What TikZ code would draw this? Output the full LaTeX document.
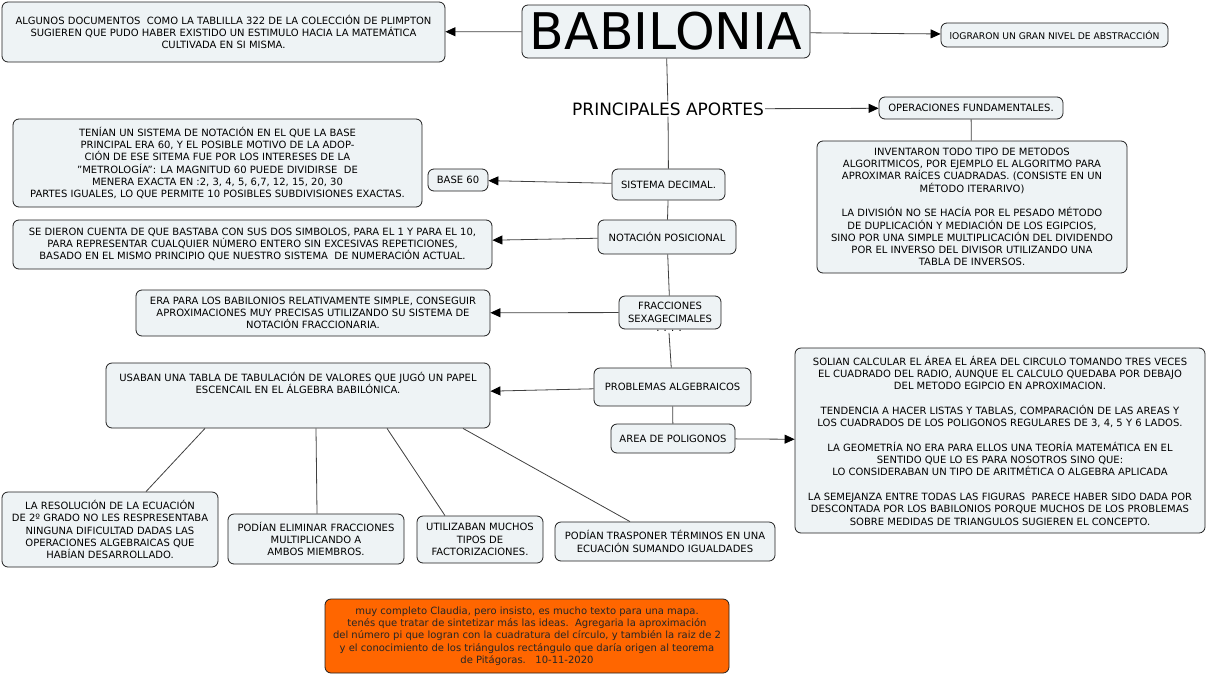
\documentclass[tikz,border=0pt]{standalone}
\usepackage{fontspec}
\setmainfont{DejaVu Sans}
\usetikzlibrary{arrows.meta}
\definecolor{cajafondo}{RGB}{238,243,245}
\definecolor{cajaborde}{RGB}{30,30,30}
\definecolor{naranja}{RGB}{255,102,0}
\tikzset{
  concepto/.style={draw=cajaborde, fill=cajafondo, rounded corners=6pt, align=center,
    inner sep=2pt, line width=0.8pt, font=\fontsize{10}{12.3}\selectfont},
  enlace/.style={draw=black!75, line width=0.8pt},
  flecha/.style={enlace, -{Triangle[length=10pt,width=9pt,color=black]}}
}
\begin{document}
\begin{tikzpicture}[x=1pt,y=-1pt]
  \useasboundingbox (0,0) rectangle (1207,675);
  % conceptos
  \node[concepto, minimum width=288, minimum height=53, font=\fontsize{50.5}{52}\selectfont] (babilonia) at (666,31.5) {BABILONIA};
  \node[concepto, minimum width=443, minimum height=60] (docs) at (223.5,32)
    {ALGUNOS DOCUMENTOS\ \ COMO LA TABLILLA 322 DE LA COLECCIÓN DE PLIMPTON\\
     SUGIEREN QUE PUDO HABER EXISTIDO UN ESTIMULO HACIA LA MATEMÁTICA\\ CULTIVADA EN SI MISMA.};
  \node[concepto, minimum width=227, minimum height=24, font=\fontsize{9.2}{11}\selectfont] (logro) at (1054.5,35) {lOGRARON UN GRAN NIVEL DE ABSTRACCIÓN};
  \node[inner sep=1pt, font=\fontsize{17}{19}\selectfont] (aportes) at (668,109) {PRINCIPALES APORTES};
  \node[concepto, minimum width=184, minimum height=22] (operaciones) at (971,108) {OPERACIONES FUNDAMENTALES.};
  \node[concepto, minimum width=310, minimum height=132] (inventaron) at (972,207)
    {INVENTARON TODO TIPO DE METODOS\\ ALGORITMICOS, POR EJEMPLO EL ALGORITMO PARA\\
     APROXIMAR RAÍCES CUADRADAS. (CONSISTE EN UN\\ MÉTODO ITERARIVO)\\[12.3pt]
     LA DIVISIÓN NO SE HACÍA POR EL PESADO MÉTODO\\ DE DUPLICACIÓN Y MEDIACIÓN DE LOS EGIPCIOS,\\
     SINO POR UNA SIMPLE MULTIPLICACIÓN DEL DIVIDENDO\\ POR EL INVERSO DEL DIVISOR UTILIZANDO UNA\\ TABLA DE INVERSOS.};
  \node[concepto, minimum width=409, minimum height=88] (tenian) at (217.5,163)
    {TENÍAN UN SISTEMA DE NOTACIÓN EN EL QUE LA BASE\\ PRINCIPAL ERA 60, Y EL POSIBLE MOTIVO DE LA ADOP-\\
     CIÓN DE ESE SITEMA FUE POR LOS INTERESES DE LA\\ "METROLOGÍA": LA MAGNITUD 60 PUEDE DIVIDIRSE\ \ DE\\
     MENERA EXACTA EN :2, 3, 4, 5, 6,7, 12, 15, 20, 30\\ PARTES IGUALES, LO QUE PERMITE 10 POSIBLES SUBDIVISIONES EXACTAS.};
  \node[concepto, minimum width=60, minimum height=22] (base) at (458,180) {BASE 60};
  \node[concepto, minimum width=113, minimum height=31] (sistema) at (668.5,184.5) {SISTEMA DECIMAL.};
  \node[concepto, minimum width=138, minimum height=34] (notacion) at (667,237) {NOTACIÓN POSICIONAL};
  \node[concepto, minimum width=479, minimum height=49] (dieron) at (252.5,244.5)
    {SE DIERON CUENTA DE QUE BASTABA CON SUS DOS SIMBOLOS, PARA EL 1 Y PARA EL 10,\\
     PARA REPRESENTAR CUALQUIER NÚMERO ENTERO SIN EXCESIVAS REPETICIONES,\\
     BASADO EN EL MISMO PRINCIPIO QUE NUESTRO SISTEMA\ \ DE NUMERACIÓN ACTUAL.};
  \node[concepto, minimum width=102, minimum height=33] (fracciones) at (670,312.5) {FRACCIONES\\ SEXAGECIMALES};
  \node[inner sep=1pt, font=\fontsize{10}{11}\selectfont] (puntos) at (669,331) {. . . .};
  \node[concepto, minimum width=354, minimum height=46] (erapara) at (313,313)
    {ERA PARA LOS BABILONIOS RELATIVAMENTE SIMPLE, CONSEGUIR\\
     APROXIMACIONES MUY PRECISAS UTILIZANDO SU SISTEMA DE\\ NOTACIÓN FRACCIONARIA.};
  \node[concepto, minimum width=157, minimum height=38] (problemas) at (672.5,387) {PROBLEMAS ALGEBRAICOS};
  \node[concepto, minimum width=384, minimum height=65] (usaban) at (298,395.5)
    {USABAN UNA TABLA DE TABULACIÓN DE VALORES QUE JUGÓ UN PAPEL\\
     ESCENCAIL EN EL ÁLGEBRA BABILÓNICA.\\ \mbox{}\\ \mbox{}};
  \node[concepto, minimum width=124, minimum height=29] (area) at (673,438.5) {AREA DE POLIGONOS};
  \node[concepto, minimum width=410, minimum height=185] (solian) at (1000,440.5)
    {SOLIAN CALCULAR EL ÁREA EL ÁREA DEL CIRCULO TOMANDO TRES VECES\\
     EL CUADRADO DEL RADIO, AUNQUE EL CALCULO QUEDABA POR DEBAJO\\ DEL METODO EGIPCIO EN APROXIMACION.\\[12.3pt]
     TENDENCIA A HACER LISTAS Y TABLAS, COMPARACIÓN DE LAS AREAS Y\\
     LOS CUADRADOS DE LOS POLIGONOS REGULARES DE 3, 4, 5 Y 6 LADOS.\\[12.3pt]
     LA GEOMETRÍA NO ERA PARA ELLOS UNA TEORÍA MATEMÁTICA EN EL\\ SENTIDO QUE LO ES PARA NOSOTROS SINO QUE:\\
     LO CONSIDERABAN UN TIPO DE ARITMÉTICA O ALGEBRA APLICADA\\[12.3pt]
     LA SEMEJANZA ENTRE TODAS LAS FIGURAS\ \ PARECE HABER SIDO DADA POR\\
     DESCONTADA POR LOS BABILONIOS PORQUE MUCHOS DE LOS PROBLEMAS\\ SOBRE MEDIDAS DE TRIANGULOS SUGIEREN EL CONCEPTO.};
  \node[concepto, minimum width=216, minimum height=75] (resol) at (110,529.5)
    {LA RESOLUCIÓN DE LA ECUACIÓN\\ DE 2º GRADO NO LES RESPRESENTABA\\ NINGUNA DIFICULTAD DADAS LAS\\
     OPERACIONES ALGEBRAICAS QUE\\ HABÍAN DESARROLLADO.};
  \node[concepto, minimum width=176, minimum height=50] (eliminar) at (316,539)
    {PODÍAN ELIMINAR FRACCIONES\\ MULTIPLICANDO A\\ AMBOS MIEMBROS.};
  \node[concepto, minimum width=126, minimum height=47] (utilizaban) at (480,539.5)
    {UTILIZABAN MUCHOS\\ TIPOS DE\\ FACTORIZACIONES.};
  \node[concepto, minimum width=220, minimum height=39] (trasponer) at (665,541.5)
    {PODÍAN TRASPONER TÉRMINOS EN UNA\\ ECUACIÓN SUMANDO IGUALDADES};
  \node[concepto, fill=naranja, minimum width=404, minimum height=74, text=black!85] (nota) at (527,636)
    {muy completo Claudia, pero insisto, es mucho texto para una mapa.\\
     tenés que tratar de sintetizar más las ideas.\ \ Agregaria la aproximación\\
     del número pi que logran con la cuadratura del círculo, y también la raiz de 2\\
     y el conocimiento de los triángulos rectángulo que daría origen al teorema\\
     de Pitágoras.\ \ \ 10-11-2020};
  % enlaces
  \draw[flecha] (babilonia) -- (docs);
  \draw[flecha] (babilonia) -- (logro);
  \draw[enlace] (babilonia) -- (aportes);
  \draw[flecha] (aportes) -- (operaciones);
  \draw[enlace] (operaciones) -- (inventaron);
  \draw[enlace] (aportes) -- (sistema);
  \draw[flecha] (sistema) -- (base);
  \draw[enlace] (sistema) -- (notacion);
  \draw[flecha] (notacion) -- (dieron);
  \draw[enlace] (notacion) -- (fracciones);
  \draw[flecha] (fracciones) -- (erapara);
  \draw[enlace] (puntos.south) -- (problemas);
  \draw[flecha] (problemas) -- (usaban);
  \draw[enlace] (problemas) -- (area);
  \draw[flecha] (area) -- (solian);
  \draw[enlace] ([xshift=-93pt]usaban.south) -- ([xshift=36pt]resol.north);
  \draw[enlace] ([xshift=18pt]usaban.south) -- ([xshift=1pt]eliminar.north);
  \draw[enlace] ([xshift=89pt]usaban.south) -- ([xshift=-35pt]utilizaban.north);
  \draw[enlace] ([xshift=165pt]usaban.south) -- ([xshift=-35pt]trasponer.north);
\end{tikzpicture}
\end{document}
